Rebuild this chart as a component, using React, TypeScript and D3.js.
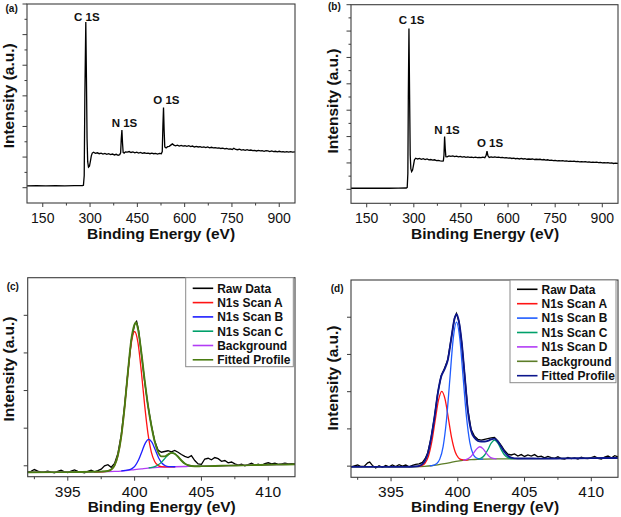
import React from "react";
import * as d3 from "d3";

type P = [number, number];

// ---------- tick values ----------
const surveyXMajor = [150, 300, 450, 600, 750, 900];
const surveyXMinor = [225, 375, 525, 675, 825];
const surveyYMajorA = [1, 2, 3, 4, 5, 6, 7];
const surveyYMinorA = [1.5, 2.5, 3.5, 4.5, 5.5, 6.5];
const surveyYMajorB = [1, 2, 3, 4, 5, 6, 7, 8];
const surveyYMinorB = [1.5, 2.5, 3.5, 4.5, 5.5, 6.5, 7.5];
const hrXMajor = [395, 400, 405, 410];
const hrXMinor = [392.5, 397.5, 402.5, 407.5];
const hrYTicks = [0, 1, 2, 3, 4];

// ---------- survey spectra ----------
const surveyA: P[] = [
  [100, 1.06], [130, 1.065], [160, 1.06], [190, 1.065], [220, 1.06], [250, 1.065], [276, 1.07],
  [279, 1.08], [281.5, 1.4], [283.5, 4.0], [286.5, 6.41], [288.5, 4.6], [290.5, 2.6], [292.5, 1.85],
  [295, 1.67], [298, 1.7], [301, 1.86], [304, 2.04], [307, 2.13], [311, 2.16], [317, 2.12], [323, 2.14],
  [329, 2.11], [335, 2.13], [341, 2.1], [347, 2.12], [353, 2.09], [359, 2.11], [365, 2.08], [371, 2.1],
  [377, 2.07], [383, 2.09], [389, 2.06], [394, 2.08], [397, 2.14], [399, 2.6], [401, 2.88], [403, 2.45],
  [405, 2.15], [408, 2.13], [412, 2.17], [418, 2.16], [424, 2.18], [430, 2.15], [436, 2.17], [442, 2.14],
  [448, 2.16], [454, 2.13], [460, 2.15], [466, 2.12], [472, 2.14], [478, 2.12], [484, 2.13], [490, 2.11],
  [496, 2.13], [502, 2.11], [508, 2.12], [514, 2.1], [520, 2.12], [526, 2.11], [529, 2.18], [531, 3.0],
  [533, 3.62], [535, 2.85], [537, 2.33], [541, 2.3], [546, 2.34], [551, 2.35], [556, 2.39], [561, 2.43],
  [566, 2.39], [571, 2.37], [577, 2.39], [583, 2.36], [589, 2.38], [595, 2.36], [601, 2.37], [607, 2.35],
  [613, 2.37], [619, 2.34], [625, 2.36], [631, 2.33], [637, 2.35], [643, 2.33], [649, 2.34], [655, 2.32],
  [661, 2.33], [667, 2.31], [673, 2.33], [679, 2.3], [685, 2.32], [691, 2.3], [697, 2.31], [703, 2.29],
  [709, 2.3], [715, 2.28], [721, 2.29], [727, 2.27], [733, 2.28], [739, 2.26], [745, 2.27], [751, 2.25],
  [756, 2.29], [762, 2.25], [768, 2.24], [774, 2.26], [780, 2.23], [786, 2.24], [792, 2.22], [798, 2.24],
  [804, 2.22], [810, 2.23], [816, 2.21], [822, 2.22], [828, 2.2], [834, 2.22], [840, 2.2], [846, 2.21],
  [852, 2.19], [858, 2.21], [864, 2.2], [870, 2.18], [876, 2.2], [882, 2.18], [888, 2.19], [894, 2.17],
  [900, 2.19], [906, 2.17], [912, 2.18], [918, 2.16], [924, 2.18], [930, 2.16], [936, 2.18], [942, 2.16],
  [950, 2.17],
];

const surveyB: P[] = [
  [100, 1.04], [130, 1.045], [160, 1.04], [190, 1.045], [220, 1.04], [250, 1.045], [276, 1.05],
  [279, 1.07], [281, 1.6], [282.5, 4.5], [284.5, 7.1], [286.5, 4.6], [288.5, 2.3], [290.5, 1.78],
  [293, 1.67], [296, 1.73], [299, 1.92], [302, 2.12], [306, 2.18], [312, 2.15], [318, 2.17], [324, 2.14],
  [330, 2.16], [336, 2.13], [342, 2.15], [348, 2.12], [354, 2.13], [360, 2.11], [366, 2.12], [372, 2.09],
  [378, 2.1], [384, 2.08], [390, 2.07], [394, 2.08], [396, 2.3], [398, 3.0], [400, 2.55], [402, 2.24],
  [406, 2.23], [412, 2.27], [418, 2.25], [424, 2.27], [430, 2.24], [436, 2.26], [442, 2.23], [448, 2.25],
  [454, 2.22], [460, 2.24], [466, 2.21], [472, 2.23], [478, 2.21], [484, 2.22], [490, 2.2], [496, 2.22],
  [502, 2.2], [508, 2.21], [514, 2.2], [520, 2.22], [526, 2.2], [530, 2.28], [533, 2.45], [536, 2.27],
  [540, 2.21], [546, 2.23], [552, 2.21], [558, 2.23], [564, 2.21], [570, 2.22], [576, 2.2], [582, 2.21],
  [588, 2.19], [594, 2.2], [600, 2.18], [606, 2.19], [612, 2.17], [618, 2.18], [624, 2.16], [630, 2.17],
  [636, 2.15], [642, 2.17], [648, 2.15], [654, 2.16], [660, 2.14], [666, 2.15], [672, 2.14], [678, 2.15],
  [684, 2.13], [690, 2.14], [696, 2.13], [702, 2.14], [708, 2.12], [714, 2.13], [720, 2.11], [726, 2.12],
  [732, 2.1], [738, 2.11], [744, 2.09], [750, 2.1], [756, 2.08], [762, 2.09], [768, 2.08], [774, 2.09],
  [780, 2.07], [786, 2.08], [792, 2.06], [798, 2.07], [804, 2.06], [810, 2.07], [816, 2.05], [822, 2.06],
  [828, 2.04], [834, 2.05], [840, 2.04], [846, 2.05], [852, 2.03], [858, 2.04], [864, 2.02], [870, 2.03],
  [876, 2.02], [882, 2.03], [888, 2.01], [894, 2.02], [900, 2.0], [906, 2.01], [912, 2.0], [918, 2.01],
  [924, 1.99], [930, 2.0], [936, 1.98], [942, 1.99], [950, 1.98],
];

const peakLabelsA: [string, number, number][] = [["C 1S", 290, 6.45], ["N 1S", 409, 2.97], ["O 1S", 542, 3.73]];
const peakLabelsB: [string, number, number][] = [["C 1S", 293, 7.26], ["N 1S", 405.6, 3.09], ["O 1S", 542.5, 2.62]];

// ---------- panel (c) ----------
const rawC: P[] = [
  [392, -0.16], [392.25, -0.15], [392.5, -0.1], [392.75, -0.14], [393, -0.17], [393.25, -0.16], [393.5, -0.14],
  [393.75, -0.17], [394, -0.19], [394.25, -0.15], [394.5, -0.12], [394.75, -0.16], [395, -0.18], [395.25, -0.14],
  [395.5, -0.11], [395.75, -0.15], [396, -0.17], [396.25, -0.19], [396.5, -0.15], [396.75, -0.12], [397, -0.16],
  [397.25, -0.13], [397.5, -0.09], [397.75, 0.0], [398, 0.03], [398.25, -0.04], [398.5, 0.06], [398.75, 0.33],
  [399, 0.82], [399.25, 1.6], [399.5, 2.5], [399.75, 3.33], [400, 3.76], [400.15, 3.84], [400.3, 3.6],
  [400.5, 3.0], [400.75, 2.24], [401, 1.6], [401.25, 1.08], [401.5, 0.66], [401.75, 0.42], [402, 0.36],
  [402.25, 0.38], [402.5, 0.4], [402.75, 0.37], [403, 0.41], [403.25, 0.36], [403.5, 0.3], [403.75, 0.25],
  [404, 0.22], [404.25, 0.27], [404.5, 0.14], [404.75, 0.05], [405, 0.04], [405.25, 0.18], [405.5, 0.2],
  [405.75, 0.16], [406, 0.22], [406.25, 0.19], [406.5, 0.12], [406.75, 0.14], [407, 0.08], [407.25, 0.1],
  [407.5, 0.05], [407.75, 0.02], [408, 0.04], [408.25, 0.0], [408.5, 0.03], [408.75, 0.07], [409, 0.02],
  [409.25, 0.04], [409.5, 0.01], [409.75, 0.06], [410, 0.08], [410.25, 0.05], [410.5, 0.07], [410.75, 0.04],
  [411, 0.05], [411.25, 0.07], [411.5, 0.05], [411.75, 0.06], [412, 0.05],
];
const bgC: P[] = [
  [392, -0.17], [394, -0.168], [396, -0.165], [397, -0.16], [398, -0.155], [398.5, -0.15], [399, -0.14],
  [399.5, -0.122], [400, -0.1], [400.5, -0.08], [401, -0.06], [401.5, -0.045], [402, -0.035], [403, -0.025],
  [404, -0.018], [405, -0.012], [406, -0.005], [407, 0.005], [408, 0.012], [409, 0.02], [410, 0.028],
  [411, 0.034], [412, 0.04],
];
const scanAC: P[] = [
  [397, -0.16], [397.5, -0.159], [398, -0.141], [398.25, -0.1], [398.5, 0.011], [398.75, 0.273], [399, 0.774],
  [399.25, 1.551], [399.5, 2.475], [399.75, 3.255], [400, 3.57], [400.25, 3.275], [400.5, 2.515],
  [400.75, 1.611], [401, 0.854], [401.25, 0.365], [401.5, 0.116], [401.75, 0.011], [402, -0.021],
  [402.5, -0.03], [403, -0.025],
];
const scanBC: P[] = [
  [399, -0.135], [399.55, -0.11], [399.8, -0.075], [400.05, 0.005], [400.3, 0.159], [400.55, 0.383],
  [400.8, 0.602], [401.05, 0.702], [401.3, 0.62], [401.55, 0.417], [401.8, 0.208], [402.05, 0.068],
  [402.3, 0.0], [402.55, -0.022], [403.05, -0.025],
];
const scanCC: P[] = [
  [401.05, -0.056], [401.3, -0.041], [401.55, -0.016], [401.8, 0.032], [402.05, 0.111], [402.3, 0.212],
  [402.55, 0.304], [402.8, 0.343], [403.05, 0.309], [403.3, 0.221], [403.55, 0.123], [403.8, 0.049],
  [404.05, 0.008], [404.3, -0.01], [404.55, -0.016], [405, -0.012],
];
const fitC: P[] = [
  [392, -0.17], [394, -0.168], [396, -0.165], [397, -0.16], [397.5, -0.155], [398, -0.14], [398.25, -0.1],
  [398.5, 0.015], [398.75, 0.28], [399, 0.78], [399.25, 1.56], [399.5, 2.5], [399.75, 3.35], [400, 3.76],
  [400.1, 3.82], [400.25, 3.64], [400.5, 3.02], [400.75, 2.28], [401, 1.6], [401.25, 1.07], [401.5, 0.65],
  [401.75, 0.37], [402, 0.25], [402.25, 0.25], [402.5, 0.3], [402.75, 0.344], [403, 0.32], [403.25, 0.24],
  [403.5, 0.14], [403.75, 0.06], [404, 0.015], [404.5, -0.012], [405, -0.01], [406, -0.005], [407, 0.005],
  [408, 0.012], [409, 0.02], [410, 0.028], [411, 0.034], [412, 0.04],
];

// ---------- panel (d) ----------
const rawD: P[] = [
  [392, -0.02], [392.25, 0.01], [392.5, 0.03], [392.75, -0.01], [393, 0.0], [393.25, 0.09], [393.4, 0.11],
  [393.6, 0.02], [393.85, -0.05], [394.1, 0.01], [394.35, -0.03], [394.6, 0.02], [394.85, -0.02], [395.1, 0.03],
  [395.35, -0.01], [395.6, 0.04], [395.85, 0.0], [396.1, 0.03], [396.35, -0.02], [396.6, 0.02], [396.85, 0.05],
  [397.1, 0.06], [397.35, 0.1], [397.55, 0.2], [397.75, 0.36], [398, 0.76], [398.25, 1.32], [398.5, 1.97],
  [398.75, 2.42], [399, 2.62], [399.25, 2.86], [399.5, 3.42], [399.75, 3.97], [399.9, 4.1], [400.1, 3.87],
  [400.3, 3.3], [400.5, 2.5], [400.75, 1.52], [401, 0.98], [401.25, 0.8], [401.5, 0.72], [401.75, 0.7],
  [402, 0.72], [402.25, 0.74], [402.5, 0.76], [402.75, 0.77], [403, 0.68], [403.25, 0.56], [403.5, 0.42],
  [403.75, 0.32], [404, 0.3], [404.25, 0.33], [404.5, 0.27], [404.75, 0.31], [405, 0.26], [405.25, 0.3],
  [405.5, 0.27], [405.75, 0.31], [406, 0.25], [406.25, 0.27], [406.5, 0.22], [406.75, 0.26], [407, 0.23],
  [407.25, 0.21], [407.5, 0.25], [407.75, 0.2], [408, 0.19], [408.25, 0.23], [408.5, 0.2], [408.75, 0.22],
  [409, 0.19], [409.25, 0.24], [409.5, 0.21], [409.75, 0.2], [410, 0.23], [410.25, 0.26], [410.5, 0.21],
  [410.75, 0.19], [411, 0.24], [411.25, 0.27], [411.5, 0.22], [411.75, 0.28], [412, 0.25],
];
const bgD: P[] = [
  [392, -0.02], [396, -0.02], [397, -0.015], [397.5, -0.005], [398, 0.01], [398.5, 0.035], [399, 0.065],
  [399.5, 0.1], [400, 0.135], [400.5, 0.16], [401, 0.175], [401.5, 0.185], [402, 0.19], [403, 0.195],
  [404, 0.198], [406, 0.203], [408, 0.208], [410, 0.214], [412, 0.22],
];
const scanAD: P[] = [
  [397.05, -0.01], [397.3, 0.013], [397.55, 0.082], [397.8, 0.267], [398.05, 0.649], [398.3, 1.215],
  [398.55, 1.767], [398.8, 2.01], [399.05, 1.794], [399.3, 1.27], [399.55, 0.737], [399.8, 0.385],
  [400.05, 0.223], [400.3, 0.172], [400.55, 0.164], [400.8, 0.17],
];
const scanBD: P[] = [
  [397.9, 0.005], [398.15, 0.023], [398.4, 0.064], [398.65, 0.188], [398.9, 0.526], [399.15, 1.233],
  [399.4, 2.315], [399.65, 3.4], [399.9, 3.87], [400.15, 3.432], [400.4, 2.38], [400.65, 1.325],
  [400.9, 0.64], [401.15, 0.322], [401.4, 0.217], [401.65, 0.192], [401.9, 0.19],
];
const scanCD: P[] = [
  [401.5, 0.191], [401.75, 0.217], [402, 0.293], [402.25, 0.441], [402.5, 0.617], [402.75, 0.7], [403, 0.619],
  [403.25, 0.445], [403.5, 0.299], [403.75, 0.227], [404, 0.204], [404.25, 0.2],
];
const scanDD: P[] = [
  [400.4, 0.16], [400.65, 0.181], [400.9, 0.23], [401.15, 0.331], [401.4, 0.458], [401.65, 0.52],
  [401.9, 0.463], [402.15, 0.343], [402.4, 0.248], [402.65, 0.207], [402.9, 0.195],
];
const fitD: P[] = [
  [392, -0.02], [396, -0.02], [397, -0.005], [397.25, 0.03], [397.5, 0.12], [397.75, 0.33], [398, 0.75],
  [398.25, 1.3], [398.5, 1.95], [398.75, 2.4], [399, 2.6], [399.25, 2.85], [399.5, 3.4], [399.75, 3.95],
  [399.9, 4.08], [400.1, 3.85], [400.3, 3.3], [400.5, 2.5], [400.75, 1.5], [401, 0.95], [401.25, 0.76],
  [401.5, 0.68], [401.75, 0.66], [402, 0.66], [402.25, 0.68], [402.5, 0.72], [402.75, 0.74], [403, 0.66],
  [403.25, 0.52], [403.5, 0.38], [403.75, 0.28], [404, 0.23], [404.5, 0.205], [406, 0.203], [408, 0.208],
  [410, 0.214], [412, 0.22],
];

const legendC = ["Raw Data", "N1s Scan A", "N1s Scan B", "N1s Scan C", "Background", "Fitted Profile"];
const legendD = ["Raw Data", "N1s Scan A", "N1s Scan B", "N1s Scan C", "N1s Scan D", "Background", "Fitted Profile"];

const COL = {
  raw: "#000000",
  red: "#ff1414",
  blueC: "#1e1eff",
  blueD: "#1f5cff",
  green: "#00a06a",
  purple: "#b23cf5",
  oliveC: "#4a7c12",
  oliveD: "#5c7d28",
  navy: "#0c168c",
};
const legendColorsC = [COL.raw, COL.red, COL.blueC, COL.green, COL.purple, COL.oliveC];
const legendColorsD = [COL.raw, COL.red, COL.blueD, COL.green, COL.purple, COL.oliveD, COL.navy];

const FONT = "'Liberation Sans', Arial, Helvetica, sans-serif";
const AXC = "#3c3c3c";

type Scale = d3.ScaleLinear<number, number>;

function Frame(props: {
  x: Scale; y: Scale; xMajor: number[]; xMinor: number[]; yMajor: number[]; yMinor: number[];
  tickFont: number; labelY: number; yMajorLen: number;
}) {
  const { x, y, xMajor, xMinor, yMajor, yMinor, tickFont, labelY, yMajorLen } = props;
  const [x0, x1] = x.range();
  const [y0, y1] = y.range();
  return (
    <g>
      <rect x={x0} y={y1} width={x1 - x0} height={y0 - y1} fill="none" stroke={AXC} strokeWidth={1.1} />
      {xMajor.map((v) => (
        <line key={"xm" + v} x1={x(v)} x2={x(v)} y1={y0} y2={y0 + 4} stroke={AXC} strokeWidth={1} />
      ))}
      {xMinor.map((v) => (
        <line key={"xn" + v} x1={x(v)} x2={x(v)} y1={y0} y2={y0 + 2.5} stroke={AXC} strokeWidth={1} />
      ))}
      {xMajor.map((v) => (
        <text key={"xl" + v} x={x(v)} y={labelY} textAnchor="middle" fontSize={tickFont} fontFamily={FONT} fill="#111">
          {v}
        </text>
      ))}
      {yMajor.map((v) => (
        <line key={"ym" + v} x1={x0 - yMajorLen} x2={x0} y1={y(v)} y2={y(v)} stroke={AXC} strokeWidth={1} />
      ))}
      {yMinor.map((v) => (
        <line key={"yn" + v} x1={x0 - 2.5} x2={x0} y1={y(v)} y2={y(v)} stroke={AXC} strokeWidth={1} />
      ))}
    </g>
  );
}

function Titles(props: { cx: number; xTitleY: number; yTitleX: number; yTitleY: number; tag: string; tagX: number; tagY: number }) {
  const { cx, xTitleY, yTitleX, yTitleY, tag, tagX, tagY } = props;
  return (
    <g fontFamily={FONT} fontWeight="bold" fill="#111">
      <text x={cx} y={xTitleY} textAnchor="middle" fontSize={15.5}>Binding Energy (eV)</text>
      <text transform={`translate(${yTitleX},${yTitleY}) rotate(-90)`} textAnchor="middle" fontSize={15.5}>
        Intensity (a.u.)
      </text>
      <text x={tagX} y={tagY} fontSize={10}>{tag}</text>
    </g>
  );
}

function mkLine(x: Scale, y: Scale, smooth: boolean) {
  const l = d3.line<P>().x((d) => x(d[0])).y((d) => y(d[1]));
  if (smooth) l.curve(d3.curveMonotoneX);
  return l;
}

function Legend(props: { x0: number; y0: number; w: number; h: number; rowY: number; step: number; names: string[]; colors: string[] }) {
  const { x0, y0, w, h, rowY, step, names, colors } = props;
  return (
    <g>
      <rect x={x0} y={y0} width={w} height={h} fill="#fff" stroke="#8a8a8a" strokeWidth={1} />
      {names.map((n, i) => {
        const cy = rowY + i * step;
        return (
          <g key={n}>
            <line x1={x0 + 7} x2={x0 + 27.5} y1={cy} y2={cy} stroke={colors[i]} strokeWidth={1.6} />
            <text x={x0 + 31.5} y={cy + 4.3} fontSize={12} fontWeight="bold" fontFamily={FONT} fill="#111">{n}</text>
          </g>
        );
      })}
    </g>
  );
}

export default function App() {
  // panel (a)
  const xa = d3.scaleLinear().domain([100, 950]).range([27, 295]);
  const ya = d3.scaleLinear().domain([0.5, 7]).range([203, 4]);
  // panel (b)
  const xb = d3.scaleLinear().domain([100, 950]).range([351, 618]);
  const yb = d3.scaleLinear().domain([0.47, 8]).range([203.3, 4.7]);
  // panel (c)
  const xc = d3.scaleLinear().domain([392, 412]).range([27.7, 295]);
  const yc = d3.scaleLinear().domain([-0.29, 5]).range([476.7, 277.7]);
  // panel (d)
  const xd = d3.scaleLinear().domain([392, 412]).range([351, 618]);
  const yd = d3.scaleLinear().domain([-0.3, 5]).range([477.3, 280]);

  const la = mkLine(xa, ya, false);
  const lb = mkLine(xb, yb, false);
  const lcRaw = mkLine(xc, yc, false);
  const lc = mkLine(xc, yc, true);
  const ldRaw = mkLine(xd, yd, false);
  const ld = mkLine(xd, yd, true);

  const peakText = (labels: [string, number, number][], x: Scale, y: Scale) =>
    labels.map(([t, ev, v]) => (
      <text key={t} x={x(ev)} y={y(v)} textAnchor="middle" fontSize={11.5} fontWeight="bold" fontFamily={FONT} fill="#111">
        {t}
      </text>
    ));

  return (
    <svg width={621} height={517} style={{ position: "absolute", left: 0, top: 0, background: "#fff" }}>
      <rect x={0} y={0} width={621} height={517} fill="#fff" />
      {/* (a) */}
      <path d={la(surveyA) || ""} fill="none" stroke={COL.raw} strokeWidth={1.3} />
      {peakText(peakLabelsA, xa, ya)}
      <Frame x={xa} y={ya} xMajor={surveyXMajor} xMinor={surveyXMinor} yMajor={surveyYMajorA} yMinor={surveyYMinorA}
        tickFont={14} labelY={222.5} yMajorLen={4.5} />
      <Titles cx={161} xTitleY={238.5} yTitleX={14.4} yTitleY={95.8} tag="(a)" tagX={5.5} tagY={11.5} />

      {/* (b) */}
      <path d={lb(surveyB) || ""} fill="none" stroke={COL.raw} strokeWidth={1.3} />
      {peakText(peakLabelsB, xb, yb)}
      <Frame x={xb} y={yb} xMajor={surveyXMajor} xMinor={surveyXMinor} yMajor={surveyYMajorB} yMinor={surveyYMinorB}
        tickFont={14} labelY={222.5} yMajorLen={4.5} />
      <Titles cx={485} xTitleY={238.5} yTitleX={338.4} yTitleY={101} tag="(b)" tagX={328} tagY={10} />

      {/* (c) */}
      <path d={lcRaw(rawC) || ""} fill="none" stroke={COL.raw} strokeWidth={1.3} />
      <path d={lc(bgC) || ""} fill="none" stroke={COL.purple} strokeWidth={1.3} />
      <path d={lc(scanAC) || ""} fill="none" stroke={COL.red} strokeWidth={1.3} />
      <path d={lc(scanBC) || ""} fill="none" stroke={COL.blueC} strokeWidth={1.3} />
      <path d={lc(scanCC) || ""} fill="none" stroke={COL.green} strokeWidth={1.3} />
      <path d={lc(fitC) || ""} fill="none" stroke={COL.oliveC} strokeWidth={1.9} />
      <Frame x={xc} y={yc} xMajor={hrXMajor} xMinor={hrXMinor} yMajor={hrYTicks} yMinor={[]}
        tickFont={15.5} labelY={496.7} yMajorLen={4} />
      <Legend x0={185.7} y0={277.7} w={107.6} h={89} rowY={288.3} step={14.3} names={legendC} colors={legendColorsC} />
      <Titles cx={161.7} xTitleY={512} yTitleX={14.4} yTitleY={369} tag="(c)" tagX={6.7} tagY={289.5} />

      {/* (d) */}
      <path d={ldRaw(rawD) || ""} fill="none" stroke={COL.raw} strokeWidth={1.3} />
      <path d={ld(bgD) || ""} fill="none" stroke={COL.oliveD} strokeWidth={1.3} />
      <path d={ld(scanAD) || ""} fill="none" stroke={COL.red} strokeWidth={1.3} />
      <path d={ld(scanBD) || ""} fill="none" stroke={COL.blueD} strokeWidth={1.3} />
      <path d={ld(scanCD) || ""} fill="none" stroke={COL.green} strokeWidth={1.3} />
      <path d={ld(scanDD) || ""} fill="none" stroke={COL.purple} strokeWidth={1.3} />
      <path d={ld(fitD) || ""} fill="none" stroke={COL.navy} strokeWidth={1.9} />
      <Frame x={xd} y={yd} xMajor={hrXMajor} xMinor={hrXMinor} yMajor={hrYTicks} yMinor={[]}
        tickFont={15.5} labelY={496.7} yMajorLen={4} />
      <Legend x0={510} y0={280} w={106} h={102.7} rowY={289.3} step={14.4} names={legendD} colors={legendColorsD} />
      <Titles cx={485} xTitleY={512} yTitleX={337.8} yTitleY={378} tag="(d)" tagX={330.7} tagY={292} />
    </svg>
  );
}
